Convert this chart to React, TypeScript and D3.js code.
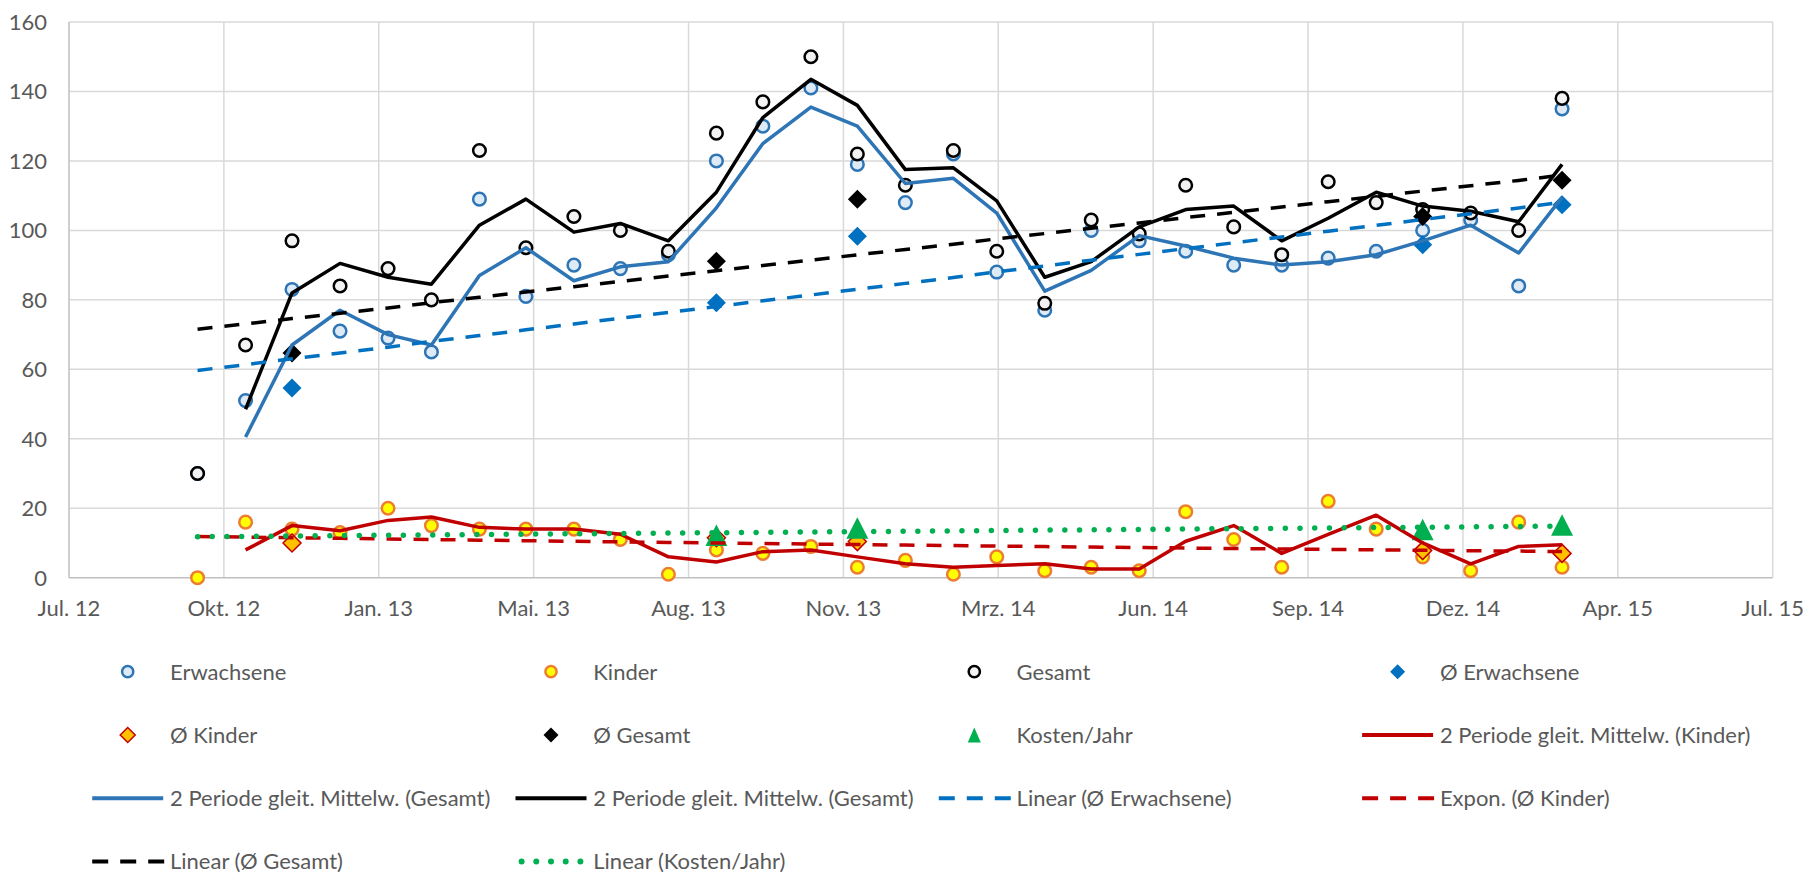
import React from "react";
import * as d3 from "d3";

// ---------- data ----------
const months = [
  "2012-10", "2012-11", "2012-12", "2013-01", "2013-02", "2013-03", "2013-04", "2013-05",
  "2013-06", "2013-07", "2013-08", "2013-09", "2013-10", "2013-11", "2013-12", "2014-01",
  "2014-02", "2014-03", "2014-04", "2014-05", "2014-06", "2014-07", "2014-08", "2014-09",
  "2014-10", "2014-11", "2014-12", "2015-01", "2015-02", "2015-03",
];
const erwachsene = [30, 51, 83, 71, 69, 65, 109, 81, 90, 89, 93, 120, 130, 141, 119, 108, 122, 88, 77, 100, 97, 94, 90, 90, 92, 94, 100, 103, 84, 135];
const kinder = [0, 16, 14, 13, 20, 15, 14, 14, 14, 11, 1, 8, 7, 9, 3, 5, 1, 6, 2, 3, 2, 19, 11, 3, 22, 14, 6, 2, 16, 3];
const gesamt = [30, 67, 97, 84, 89, 80, 123, 95, 104, 100, 94, 128, 137, 150, 122, 113, 123, 94, 79, 103, 99, 113, 101, 93, 114, 108, 106, 105, 100, 138];

const avgIdx = [2, 11, 14, 26, 29];
const avgErwachsene = [54.6, 79.2, 98.3, 95.9, 107.4];
const avgKinder = [10, 11.5, 10.4, 7.8, 7.0];
const avgGesamt = [64.7, 91.1, 109.0, 104.0, 114.4];

const kostenIdx = [11, 14, 26, 29];
const kosten = [12.2, 14.3, 13.9, 15.2];

const xTickStart = "2012-07-10";
const xTickStepDays = 100;
const xTickLabels = ["Jul. 12", "Okt. 12", "Jan. 13", "Mai. 13", "Aug. 13", "Nov. 13", "Mrz. 14", "Jun. 14", "Sep. 14", "Dez. 14", "Apr. 15", "Jul. 15"];
const yTicks = [0, 20, 40, 60, 80, 100, 120, 140, 160];

// ---------- helpers ----------
const DAY = 86400000;
const parseMonth = d3.utcParse("%Y-%m");
const parseDay = d3.utcParse("%Y-%m-%d");
const dates = months.map((m) => parseMonth(m) as Date);
const t0 = (parseDay(xTickStart) as Date).getTime();
const tickDates = xTickLabels.map((_, i) => new Date(t0 + i * xTickStepDays * DAY));

const W = 1805, H = 874;
const PL = 69, PR = 1772.7, PT = 22, PB = 577.7;

const x = d3.scaleUtc().domain([tickDates[0], tickDates[tickDates.length - 1]]).range([PL, PR]);
const y = d3.scaleLinear().domain([0, 160]).range([PB, PT]);

function movingAvg(v: number[]) {
  return v.map((d, i) => (i === 0 ? null : (v[i - 1] + d) / 2));
}
function linFit(xs: number[], ys: number[]) {
  const mx = d3.mean(xs) as number, my = d3.mean(ys) as number;
  let sxy = 0, sxx = 0;
  xs.forEach((xi, k) => { sxy += (xi - mx) * (ys[k] - my); sxx += (xi - mx) ** 2; });
  const b = sxy / sxx;
  return (t: number) => my + b * (t - mx);
}
function expFit(xs: number[], ys: number[]) {
  const f = linFit(xs, ys.map(Math.log));
  return (t: number) => Math.exp(f(t));
}

const idxAll = dates.map((_, i) => i);
const lineGen = d3.line<[number, number | null]>()
  .defined((d) => d[1] !== null)
  .x((d) => x(dates[d[0]]))
  .y((d) => y(d[1] as number));

const maKinder = movingAvg(kinder);
const maErw = movingAvg(erwachsene);
const maGes = movingAvg(gesamt);
const fErw = linFit(avgIdx, avgErwachsene);
const fKin = expFit(avgIdx, avgKinder);
const fGes = linFit(avgIdx, avgGesamt);
const fKost = linFit(kostenIdx, kosten);

const pathOf = (vals: (number | null)[]) => lineGen(idxAll.map((i) => [i, vals[i]]) as [number, number | null][]) || "";
const trendPath = (f: (t: number) => number) => pathOf(idxAll.map((i) => f(i)));

const FONT = "Lato, 'Open Sans', sans-serif";
const FS = 22;
const TXT = "#595959";

const C = {
  erwStroke: "#2E75B6", erwFill: "#DEEBF7",
  kinStroke: "#ED7D31", kinFill: "#FFFF00",
  gesStroke: "#000000", gesFill: "#F2F2F2",
  avgErw: "#0070C0", avgKinFill: "#FFC000", avgKinStroke: "#C00000", avgGes: "#000000",
  kosten: "#00B050", red: "#C00000", blueLine: "#2E75B6", blueDash: "#0070C0", black: "#000000",
};

const diamond = (cx: number, cy: number, h: number) => `M${cx},${cy - h}L${cx + h},${cy}L${cx},${cy + h}L${cx - h},${cy}Z`;
const triangle = (cx: number, cy: number, w: number, h: number) => `M${cx},${cy - h / 2}L${cx + w / 2},${cy + h / 2}L${cx - w / 2},${cy + h / 2}Z`;

type Mk = { kind: "circle" | "diamond" | "triangle" | "line" | "dash" | "dot"; fill?: string; stroke?: string; sw?: number; color?: string };

const legendItems: { label: string; mk: Mk }[] = [
  { label: "Erwachsene", mk: { kind: "circle", fill: C.erwFill, stroke: C.erwStroke } },
  { label: "Kinder", mk: { kind: "circle", fill: C.kinFill, stroke: C.kinStroke } },
  { label: "Gesamt", mk: { kind: "circle", fill: C.gesFill, stroke: C.gesStroke } },
  { label: "Ø Erwachsene", mk: { kind: "diamond", fill: C.avgErw } },
  { label: "Ø Kinder", mk: { kind: "diamond", fill: C.avgKinFill, stroke: C.avgKinStroke, sw: 1.5 } },
  { label: "Ø Gesamt", mk: { kind: "diamond", fill: C.avgGes } },
  { label: "Kosten/Jahr", mk: { kind: "triangle", fill: C.kosten } },
  { label: "2 Periode gleit. Mittelw. (Kinder)", mk: { kind: "line", color: C.red } },
  { label: "2 Periode gleit. Mittelw. (Gesamt)", mk: { kind: "line", color: C.blueLine } },
  { label: "2 Periode gleit. Mittelw. (Gesamt)", mk: { kind: "line", color: C.black } },
  { label: "Linear (Ø Erwachsene)", mk: { kind: "dash", color: C.blueDash } },
  { label: "Expon. (Ø Kinder)", mk: { kind: "dash", color: C.red } },
  { label: "Linear (Ø Gesamt)", mk: { kind: "dash", color: C.black } },
  { label: "Linear (Kosten/Jahr)", mk: { kind: "dot", color: C.kosten } },
];

function LegendMarker({ mk, cx, cy }: { mk: Mk; cx: number; cy: number }) {
  switch (mk.kind) {
    case "circle":
      return <circle cx={cx} cy={cy} r={5.6} fill={mk.fill} stroke={mk.stroke} strokeWidth={2.5} />;
    case "diamond":
      return <path d={diamond(cx, cy, 7.5)} fill={mk.fill} stroke={mk.stroke || "none"} strokeWidth={mk.sw || 0} />;
    case "triangle":
      return <path d={triangle(cx, cy, 13, 15)} fill={mk.fill} />;
    case "line":
      return <line x1={cx - 35.5} x2={cx + 35.5} y1={cy} y2={cy} stroke={mk.color} strokeWidth={4} />;
    case "dash":
      return <line x1={cx - 35.5} x2={cx + 36.5} y1={cy} y2={cy} stroke={mk.color} strokeWidth={4} strokeDasharray="16 12" />;
    case "dot":
      return <line x1={cx - 29.4} x2={cx + 29.5} y1={cy} y2={cy} stroke={mk.color} strokeWidth={6} strokeDasharray="0 14.7" strokeLinecap="round" />;
  }
  return null;
}

export default function App() {
  const legendCol0 = 127.7, legendColStep = 423.3, legendRow0 = 671.7, legendRowStep = 63.3;
  return (
    <svg width={W} height={H} style={{ position: "absolute", left: 0, top: 0, background: "#fff" }} fontFamily={FONT}>
      {/* grid */}
      {yTicks.slice(1).map((t) => (
        <line key={"gy" + t} x1={PL} x2={PR} y1={y(t)} y2={y(t)} stroke="#D9D9D9" strokeWidth={1.5} />
      ))}
      {tickDates.slice(1).map((d, i) => (
        <line key={"gx" + i} x1={x(d)} x2={x(d)} y1={PT} y2={PB} stroke="#D9D9D9" strokeWidth={1.5} />
      ))}
      <line x1={PL} x2={PL} y1={PT} y2={PB} stroke="#BFBFBF" strokeWidth={1.5} />
      <line x1={PL} x2={PR} y1={PB} y2={PB} stroke="#BFBFBF" strokeWidth={1.5} />

      {/* axis labels */}
      {yTicks.map((t) => (
        <text key={"yl" + t} x={47} y={y(t) + 7.8} textAnchor="end" fontSize={FS} fill={TXT}>{t}</text>
      ))}
      {tickDates.map((d, i) => (
        <text key={"xl" + i} x={x(d)} y={616} textAnchor="middle" fontSize={FS} fill={TXT}>{xTickLabels[i]}</text>
      ))}

      {/* series markers */}
      {erwachsene.map((v, i) => (
        <circle key={"e" + i} cx={x(dates[i])} cy={y(v)} r={6.3} fill={C.erwFill} stroke={C.erwStroke} strokeWidth={2.5} />
      ))}
      {kinder.map((v, i) => (
        <circle key={"k" + i} cx={x(dates[i])} cy={y(v)} r={6.3} fill={C.kinFill} stroke={C.kinStroke} strokeWidth={2.5} />
      ))}
      {gesamt.map((v, i) => (
        <circle key={"g" + i} cx={x(dates[i])} cy={y(v)} r={6.3} fill={C.gesFill} stroke={C.gesStroke} strokeWidth={2.5} />
      ))}
      {avgErwachsene.map((v, k) => (
        <path key={"ae" + k} d={diamond(x(dates[avgIdx[k]]), y(v), 9.5)} fill={C.avgErw} />
      ))}
      {avgKinder.map((v, k) => (
        <path key={"ak" + k} d={diamond(x(dates[avgIdx[k]]), y(v), 9)} fill={C.avgKinFill} stroke={C.avgKinStroke} strokeWidth={1.5} />
      ))}
      {avgGesamt.map((v, k) => (
        <path key={"ag" + k} d={diamond(x(dates[avgIdx[k]]), y(v), 9.5)} fill={C.avgGes} />
      ))}
      {kosten.map((v, k) => (
        <path key={"ko" + k} d={triangle(x(dates[kostenIdx[k]]), y(v), 22, 21.5)} fill={C.kosten} />
      ))}

      {/* trendlines */}
      <g fill="none" strokeLinejoin="round">
        <path d={pathOf(maKinder)} stroke={C.red} strokeWidth={3.5} />
        <path d={pathOf(maErw)} stroke={C.blueLine} strokeWidth={3.5} />
        <path d={pathOf(maGes)} stroke={C.black} strokeWidth={3.5} />
        <path d={trendPath(fErw)} stroke={C.blueDash} strokeWidth={3.5} strokeDasharray="15 12" />
        <path d={trendPath(fKin)} stroke={C.red} strokeWidth={3.5} strokeDasharray="15 12" />
        <path d={trendPath(fGes)} stroke={C.black} strokeWidth={3.5} strokeDasharray="15 12" />
        <path d={trendPath(fKost)} stroke={C.kosten} strokeWidth={5.5} strokeDasharray="0 14.7" strokeLinecap="round" />
      </g>

      {/* legend */}
      {legendItems.map((it, i) => {
        const col = i % 4, row = Math.floor(i / 4);
        const cx = legendCol0 + col * legendColStep;
        const cy = legendRow0 + row * legendRowStep;
        return (
          <g key={"lg" + i}>
            <LegendMarker mk={it.mk} cx={cx} cy={cy} />
            <text x={cx + 42.3} y={cy + 7.8} fontSize={FS} fill={TXT}>{it.label}</text>
          </g>
        );
      })}
    </svg>
  );
}
